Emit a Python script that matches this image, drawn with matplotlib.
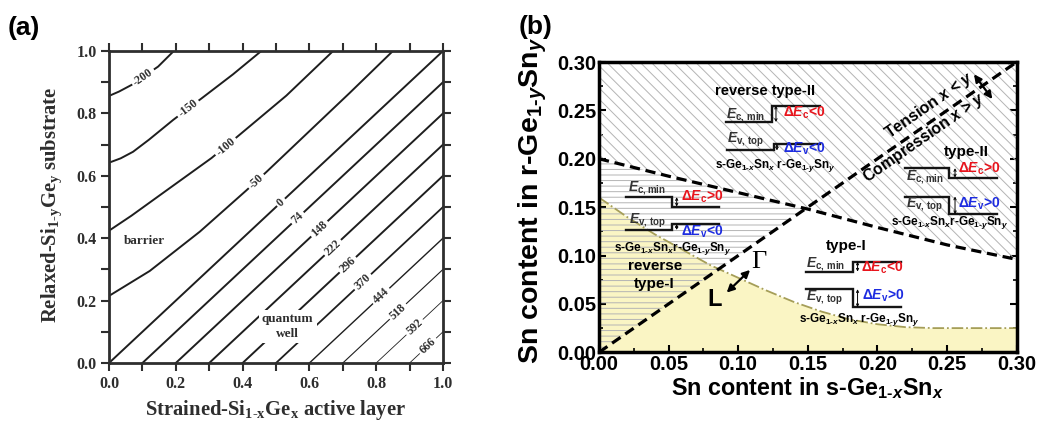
import numpy as np
import matplotlib
matplotlib.use("Agg")
import matplotlib.pyplot as plt

plt.rcParams.update({
    'font.family': 'Liberation Sans', 'font.weight': 'bold',
    'axes.labelweight': 'bold',
    'mathtext.fontset': 'custom',
    'mathtext.rm': 'Liberation Sans:bold',
    'mathtext.it': 'Liberation Sans:italic:bold',
    'mathtext.bf': 'Liberation Sans:bold',
    'mathtext.sf': 'Liberation Serif:bold',
    'hatch.linewidth': 0.7,
})

# ---------------- panel (a): conduction-band offset contours (meV) ----------------
neg_levels = [-200, -150, -100, -50]
m200_x = [0.0, 0.030, 0.067, 0.147, 0.194]
m200_y = [0.856, 0.870, 0.891, 0.950, 1.0]
m150_x = [0.0, 0.035, 0.072, 0.120, 0.192, 0.277, 0.371, 0.456]
m150_y = [0.642, 0.656, 0.677, 0.716, 0.779, 0.848, 0.925, 1.0]
m100_x = [0.0, 0.067, 0.172, 0.307, 0.386, 0.531, 0.671]
m100_y = [0.424, 0.472, 0.553, 0.657, 0.727, 0.857, 1.0]
m50_x = [0.0, 0.122, 0.272, 0.411, 0.471, 0.720, 0.850]
m50_y = [0.215, 0.295, 0.421, 0.553, 0.612, 0.865, 1.0]
neg_label_x = [0.102, 0.237, 0.349, 0.441]

pos_levels = [0, 74, 148, 222, 296, 370, 444, 518, 592, 666]
pos_start_x = [0.0, 0.1, 0.2, 0.3, 0.4, 0.5, 0.6, 0.7, 0.8, 0.9]   # where each line meets y = 0
pos_end_y = [1.0, 0.9, 0.8, 0.7, 0.6, 0.5, 0.4, 0.3, 0.2, 0.1]     # where each line meets x = 1
pos_label_x = [0.515, 0.565, 0.630, 0.670, 0.715, 0.760, 0.815, 0.865, 0.915, 0.955]
pos_lw = [1.4, 1.4, 1.4, 1.4, 1.4, 1.3, 1.0, 0.8, 0.6, 0.6]

# ---------------- panel (b): band-alignment boundaries ----------------
gl_x = [0.0, 0.02, 0.04, 0.06, 0.08, 0.10, 0.12, 0.14, 0.16, 0.18, 0.20, 0.22, 0.24, 0.26, 0.28, 0.30]
gl_y = [0.160, 0.140, 0.122, 0.106, 0.090, 0.077, 0.064, 0.052, 0.042, 0.034, 0.029, 0.026, 0.025, 0.025, 0.025, 0.025]
ec_x = [0.0, 0.05, 0.10, 0.15, 0.20, 0.25, 0.30]
ec_y = [0.200, 0.182, 0.165, 0.148, 0.129, 0.111, 0.096]
xy_x = [0.0, 0.3]
xy_y = [0.0, 0.3]

W, H = 1039, 423
fig = plt.figure(figsize=(W / 100, H / 100), dpi=100)
axa = fig.add_axes([109 / W, 1 - 363 / H, 334 / W, 312 / H])
axb = fig.add_axes([599 / W, 1 - 352.3 / H, 417.7 / W, 290.3 / H])

serif = 'Liberation Serif'
dark = '#2e2e2e'
hy = '\u2010'   # real hyphen inside math subscripts

axa.set_xlim(0, 1)
axa.set_ylim(0, 1)


def line_label(ax, xs, ys, xl, txt):
    yl = np.interp(xl, xs, ys)
    p1 = ax.transData.transform((xl - 0.02, np.interp(xl - 0.02, xs, ys)))
    p2 = ax.transData.transform((xl + 0.02, np.interp(xl + 0.02, xs, ys)))
    ang = np.degrees(np.arctan2(p2[1] - p1[1], p2[0] - p1[0]))
    ax.text(xl, yl, txt, rotation=ang, rotation_mode='anchor', ha='center', va='center',
            fontsize=8.5, family=serif, weight='bold', color=dark, zorder=4,
            bbox=dict(boxstyle='square,pad=0.2', fc='white', ec='none'))


neg_lines = [(m200_x, m200_y), (m150_x, m150_y), (m100_x, m100_y), (m50_x, m50_y)]
for (xs, ys), lev, xl in zip(neg_lines, neg_levels, neg_label_x):
    axa.plot(xs, ys, color='#1e1e1e', lw=1.4, zorder=2)
    line_label(axa, xs, ys, xl, str(lev))

for lev, x0, y1, xl, lw in zip(pos_levels, pos_start_x, pos_end_y, pos_label_x, pos_lw):
    xs, ys = [x0, 1.0], [0.0, y1]
    axa.plot(xs, ys, color='#1e1e1e', lw=lw, zorder=2)
    line_label(axa, xs, ys, xl, str(lev))

axa.text(0.105, 0.39, 'barrier', ha='center', va='center', fontsize=9.5, family=serif,
         weight='bold', color=dark, zorder=4)
axa.text(0.535, 0.117, 'quantum\nwell', ha='center', va='center', fontsize=9.5, family=serif,
         weight='bold', color=dark, linespacing=1.25, zorder=4,
         bbox=dict(boxstyle='square,pad=0.25', fc='white', ec='none'))

ta = np.round(np.arange(0, 1.01, 0.2), 1)
axa.set_xticks(ta, ['%.1f' % t for t in ta])
axa.set_yticks(ta, ['%.1f' % t for t in ta])
axa.set_xticks(np.arange(0.1, 1.0, 0.2), minor=True)
axa.set_yticks(np.arange(0.1, 1.0, 0.2), minor=True)
axa.tick_params(which='both', direction='out', length=6, width=1.5, color=dark,
                top=True, right=True, pad=3, labelsize=11.5, labelcolor=dark,
                labelfontfamily=serif)
for s in axa.spines.values():
    s.set_linewidth(2)
    s.set_color(dark)
axa.set_xlabel(r'Strained-Si$_{\mathsf{1' + hy + r'x}}$Ge$_{\mathsf{x}}$ active layer', fontsize=14.9,
               family=serif, color=dark, va='center')
axa.xaxis.set_label_coords(0.498, -0.151)
axa.set_ylabel(r'Relaxed-Si$_{\mathsf{1' + hy + r'y}}$Ge$_{\mathsf{y}}$ substrate', fontsize=14.9,
               family=serif, color=dark, va='center')
axa.yaxis.set_label_coords(-0.171, 0.508)

# ---------------- panel (b) ----------------
axb.set_xlim(0, 0.3)
axb.set_ylim(0, 0.3)
axb.fill_between(gl_x, 0, gl_y, color='#faf5c4', lw=0, zorder=1)
ec_x_arr = np.array(ec_x)
ec_y_arr = np.array(ec_y)
axb.fill_between(ec_x_arr, ec_x_arr, ec_y_arr, where=ec_y_arr >= ec_x_arr, interpolate=True,
                 facecolor='none', edgecolor='#b4b4b4', hatch='---', lw=0, zorder=2)
axb.fill_between(ec_x_arr, ec_y_arr, 0.3, facecolor='none', edgecolor='#b4b4b4',
                 hatch='\\\\\\', lw=0, zorder=2)
axb.plot(gl_x, gl_y, ls='-.', color='#a59e58', lw=1.3, zorder=3)
axb.plot(ec_x, ec_y, color='k', lw=2.3, dashes=(3.2, 1.8), zorder=3)
axb.plot(xy_x, xy_y, color='k', lw=2.3, dashes=(3.2, 1.8), zorder=3)

red, blue, grey = '#e8141c', '#1c2be0', '#333333'


def band(x0, xs, x1, yl, yr, xa):
    axb.plot([x0, xs, xs, x1], [yl, yl, yr, yr], color='#151515', lw=1.7, zorder=5,
             solid_joinstyle='miter')
    axb.annotate('', xy=(xa, yl), xytext=(xa, yr), zorder=5,
                 arrowprops=dict(arrowstyle='<->', lw=0.7, color='k', shrinkA=0, shrinkB=0,
                                 mutation_scale=4))


def txt(x, y, s, fs=10, color='k', ha='left', **kw):
    axb.text(x, y, s, fontsize=fs, color=color, ha=ha, va='center', zorder=6, **kw)


mat_sp = r's-Ge$_{1' + hy + r'x}$Sn$_{x}$ r-Ge$_{1' + hy + r'y}$Sn$_{y}$'
mat = r's-Ge$_{1' + hy + r'x}$Sn$_{x}$r-Ge$_{1' + hy + r'y}$Sn$_{y}$'

# reverse type-II
txt(0.1192, 0.2703, 'reverse type-II', fs=10.5, ha='center')
band(0.091, 0.124, 0.1587, 0.238, 0.2548, 0.1271)
band(0.0917, 0.1255, 0.1587, 0.2086, 0.2152, 0.1278)
txt(0.0915, 0.2450, r'$E_{\mathrm{c,\,min}}$', fs=10, color=grey)
txt(0.0917, 0.2200, r'$E_{\mathrm{v,\,top}}$', fs=10, color=grey)
txt(0.132, 0.2476, r'Δ$E_{\mathrm{c}}$<0', color=red)
txt(0.132, 0.2105, r'Δ$E_{\mathrm{v}}$<0', color=blue)
txt(0.1265, 0.1930, mat_sp, fs=8.5, ha='center')

# reverse type-I
band(0.0194, 0.0527, 0.0864, 0.1603, 0.1506, 0.0558)
band(0.0194, 0.0527, 0.0864, 0.1265, 0.1324, 0.0558)
txt(0.0208, 0.1690, r'$E_{\mathrm{c,min}}$', fs=10, color=grey)
txt(0.0215, 0.1358, r'$E_{\mathrm{v,\,top}}$', fs=10, color=grey)
txt(0.0587, 0.1607, r'Δ$E_{\mathrm{c}}$>0', color=red)
txt(0.0587, 0.1244, r'Δ$E_{\mathrm{v}}$<0', color=blue)
txt(0.0528, 0.1075, mat, fs=8.5, ha='center')
txt(0.0400, 0.0800, 'reverse\ntype-I', fs=11, ha='center', linespacing=1.3)

# type-II
txt(0.2640, 0.2067, 'type-II', fs=11, ha='center')
band(0.2198, 0.2512, 0.2861, 0.1903, 0.1806, 0.2557)
band(0.2198, 0.2512, 0.2861, 0.1610, 0.1428, 0.2557)
txt(0.2205, 0.1808, r'$E_{\mathrm{c,min}}$', fs=10, color=grey)
txt(0.2205, 0.1520, r'$E_{\mathrm{v,\,top}}$', fs=10, color=grey)
txt(0.2580, 0.1900, r'Δ$E_{\mathrm{c}}$>0', color=red)
txt(0.2580, 0.1534, r'Δ$E_{\mathrm{v}}$>0', color=blue)
txt(0.2521, 0.1340, mat, fs=8.5, ha='center')

# type-I
txt(0.1779, 0.1102, 'type-I', fs=11, ha='center')
band(0.1487, 0.1827, 0.2172, 0.0834, 0.0937, 0.1857)
band(0.1487, 0.1827, 0.2172, 0.0652, 0.0466, 0.1857)
txt(0.1485, 0.0910, r'$E_{\mathrm{c,\,min}}$', fs=10, color=grey)
txt(0.1490, 0.0563, r'$E_{\mathrm{v,\,top}}$', fs=10, color=grey)
txt(0.1882, 0.0869, r'Δ$E_{\mathrm{c}}$<0', color=red)
txt(0.1887, 0.0584, r'Δ$E_{\mathrm{v}}$>0', color=blue)
txt(0.1869, 0.0344, mat_sp, fs=8.5, ha='center')

# strain labels along x = y
p1 = axb.transData.transform((0, 0))
p2 = axb.transData.transform((0.3, 0.3))
ang = np.degrees(np.arctan2(p2[1] - p1[1], p2[0] - p1[0]))
axb.text(0.2377, 0.2548, r'Tension $x$ < $y$', fontsize=11.5, rotation=ang,
         rotation_mode='anchor', ha='center', va='center', zorder=6)
axb.text(0.2335, 0.2215, r'Compression $x$ > $y$', fontsize=11.5, rotation=ang,
         rotation_mode='anchor', ha='center', va='center', zorder=6)
axb.annotate('', xy=(0.2693, 0.2873), xytext=(0.2825, 0.2617), zorder=6,
             arrowprops=dict(arrowstyle='<|-|>', color='k', lw=1.6, mutation_scale=11,
                             shrinkA=0, shrinkB=0))
# Gamma / L crossover
axb.annotate('', xy=(0.0917, 0.0617), xytext=(0.1085, 0.0851), zorder=6,
             arrowprops=dict(arrowstyle='<|-|>', color='k', lw=1.6, mutation_scale=11,
                             shrinkA=0, shrinkB=0))
axb.text(0.1095, 0.0937, 'Γ', fontsize=19, family=serif, weight='normal', ha='left',
         va='center', zorder=6)
axb.text(0.0833, 0.0541, 'L', fontsize=17, ha='center', va='center', zorder=6)

tb = np.round(np.arange(0, 0.301, 0.05), 2)
axb.set_xticks(tb, ['%.2f' % t for t in tb])
axb.set_yticks(tb, ['%.2f' % t for t in tb])
axb.set_xticks(np.arange(0.025, 0.3, 0.05), minor=True)
axb.set_yticks(np.arange(0.025, 0.3, 0.05), minor=True)
axb.tick_params(which='major', direction='in', length=5, width=1.5, right=True, pad=2,
                labelsize=14.5, labelfontfamily='Liberation Sans')
axb.tick_params(which='minor', direction='in', length=3, width=1.2, right=True)
for s in axb.spines.values():
    s.set_linewidth(2.5)
    s.set_zorder(7)
axb.set_xlabel(r'Sn content in s-Ge$_{1' + hy + r'x}$Sn$_{x}$', fontsize=16.8, va='center')
axb.xaxis.set_label_coords(0.5, -0.123)
axb.set_ylabel(r'Sn content in r-Ge$_{1' + hy + r'y}$Sn$_{y}$', fontsize=20.5, va='center')
axb.yaxis.set_label_coords(-0.158, 0.522)

fig.text(8 / W, 1 - 28 / H, '(a)', fontsize=19, weight='bold', va='center')
fig.text(519 / W, 1 - 27 / H, '(b)', fontsize=19, weight='bold', va='center')

fig.canvas.draw()
for ax in (axa, axb):
    for lab in ax.get_xticklabels() + ax.get_yticklabels():
        lab.set_fontweight('bold')

fig.savefig('out.png', dpi=100)
